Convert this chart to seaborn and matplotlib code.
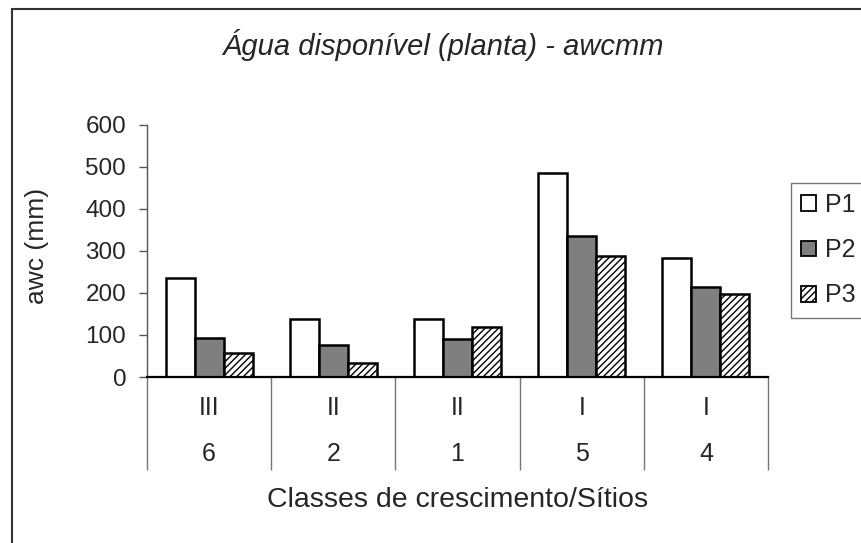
import matplotlib
matplotlib.use("Agg")
import matplotlib.pyplot as plt
from matplotlib.lines import Line2D
from matplotlib.patches import Patch
import seaborn as sns
import pandas as pd

sites = ["6", "2", "1", "5", "4"]
classes = ["III", "II", "II", "I", "I"]
series = ["P1", "P2", "P3"]
p1 = [236, 139, 139, 484, 283]
p2 = [92, 76, 91, 334, 215]
p3 = [58, 33, 120, 287, 197]
yticks = [0, 100, 200, 300, 400, 500, 600]

sns.set_theme(style="white")
plt.rcParams["font.family"] = ["Liberation Sans", "DejaVu Sans"]
plt.rcParams["hatch.linewidth"] = 1.0
plt.rcParams["hatch.color"] = "#333333"

rows = []
for s, vals in zip(series, [p1, p2, p3]):
    for site, v in zip(sites, vals):
        rows.append({"site": site, "serie": s, "awc": v})
df = pd.DataFrame(rows)

W, H = 862, 543
fig = plt.figure(figsize=(W / 100, H / 100), dpi=100, facecolor="white")
ax = fig.add_axes([147 / W, 1 - 377 / H, (768 - 147) / W, (377 - 124.5) / H])

palette = {"P1": "white", "P2": "#7f7f7f", "P3": "white"}
sns.barplot(data=df, x="site", y="awc", hue="serie", order=sites, hue_order=series,
            palette=palette, edgecolor="black", linewidth=1.8, width=0.7,
            saturation=1, ax=ax, legend=False, errorbar=None)
for bar in ax.containers[2]:
    bar.set_hatch("/////")

ax.set_ylim(0, 600)
ax.set_xlim(-0.5, len(sites) - 0.5)
ax.set_yticks(yticks)
ax.set_yticklabels([str(t) for t in yticks], fontsize=17.5)
ax.tick_params(axis="y", direction="out", length=6, width=1, color="#555555", pad=9, left=True)

# x axis: no major labels, minor ticks as dividers
ax.set_xticks(range(len(sites)))
ax.set_xticklabels([])
ax.tick_params(axis="x", which="major", length=0)
ax.set_xticks([i - 0.5 for i in range(len(sites) + 1)], minor=True)
ax.tick_params(axis="x", which="minor", direction="out", length=67, width=1,
               color="#777777", bottom=True)

trans = ax.get_xaxis_transform()
for i, (c, s) in enumerate(zip(classes, sites)):
    ax.text(i, -0.123, c, transform=trans, ha="center", va="center", fontsize=18)
    ax.text(i, -0.305, s, transform=trans, ha="center", va="center", fontsize=18)

for side in ["top", "right"]:
    ax.spines[side].set_visible(False)
ax.spines["left"].set_color("#555555")
ax.spines["left"].set_linewidth(1)
ax.spines["bottom"].set_color("black")
ax.spines["bottom"].set_linewidth(1.6)

ax.set_ylabel("awc (mm)", fontsize=19)
ax.yaxis.set_label_coords(-0.177, 0.52)
ax.yaxis.label.set_va("center")
ax.set_xlabel("Classes de crescimento/Sítios", fontsize=20.5)
ax.xaxis.set_label_coords(0.5, -0.487)
ax.xaxis.label.set_va("center")

fig.text(443 / W, 1 - 45 / H, "Água disponível (planta) - awcmm", ha="center", va="center",
         fontsize=21, style="italic")

handles = [Patch(facecolor="white", edgecolor="black", linewidth=1.3),
           Patch(facecolor="#7f7f7f", edgecolor="black", linewidth=1.3),
           Patch(facecolor="white", edgecolor="black", linewidth=1.3, hatch="/////")]
leg = fig.legend(handles, series, loc="upper left", bbox_to_anchor=(791 / W, 1 - 183 / H),
                 fontsize=18, frameon=True, fancybox=False, shadow=False,
                 handlelength=0.6, handleheight=0.6, handletextpad=0.35,
                 labelspacing=0.85, borderpad=0.4, borderaxespad=0)
leg.get_frame().set_edgecolor("#555555")
leg.get_frame().set_linewidth(1)

# outer frame
fig.add_artist(Line2D([12 / W, 12 / W], [0, 1 - 9 / H], transform=fig.transFigure,
                      color="#333333", linewidth=1.5))
fig.add_artist(Line2D([12 / W, 1], [1 - 9 / H, 1 - 9 / H], transform=fig.transFigure,
                      color="#333333", linewidth=1.5))

fig.savefig("out.png", dpi=100, facecolor="white")
